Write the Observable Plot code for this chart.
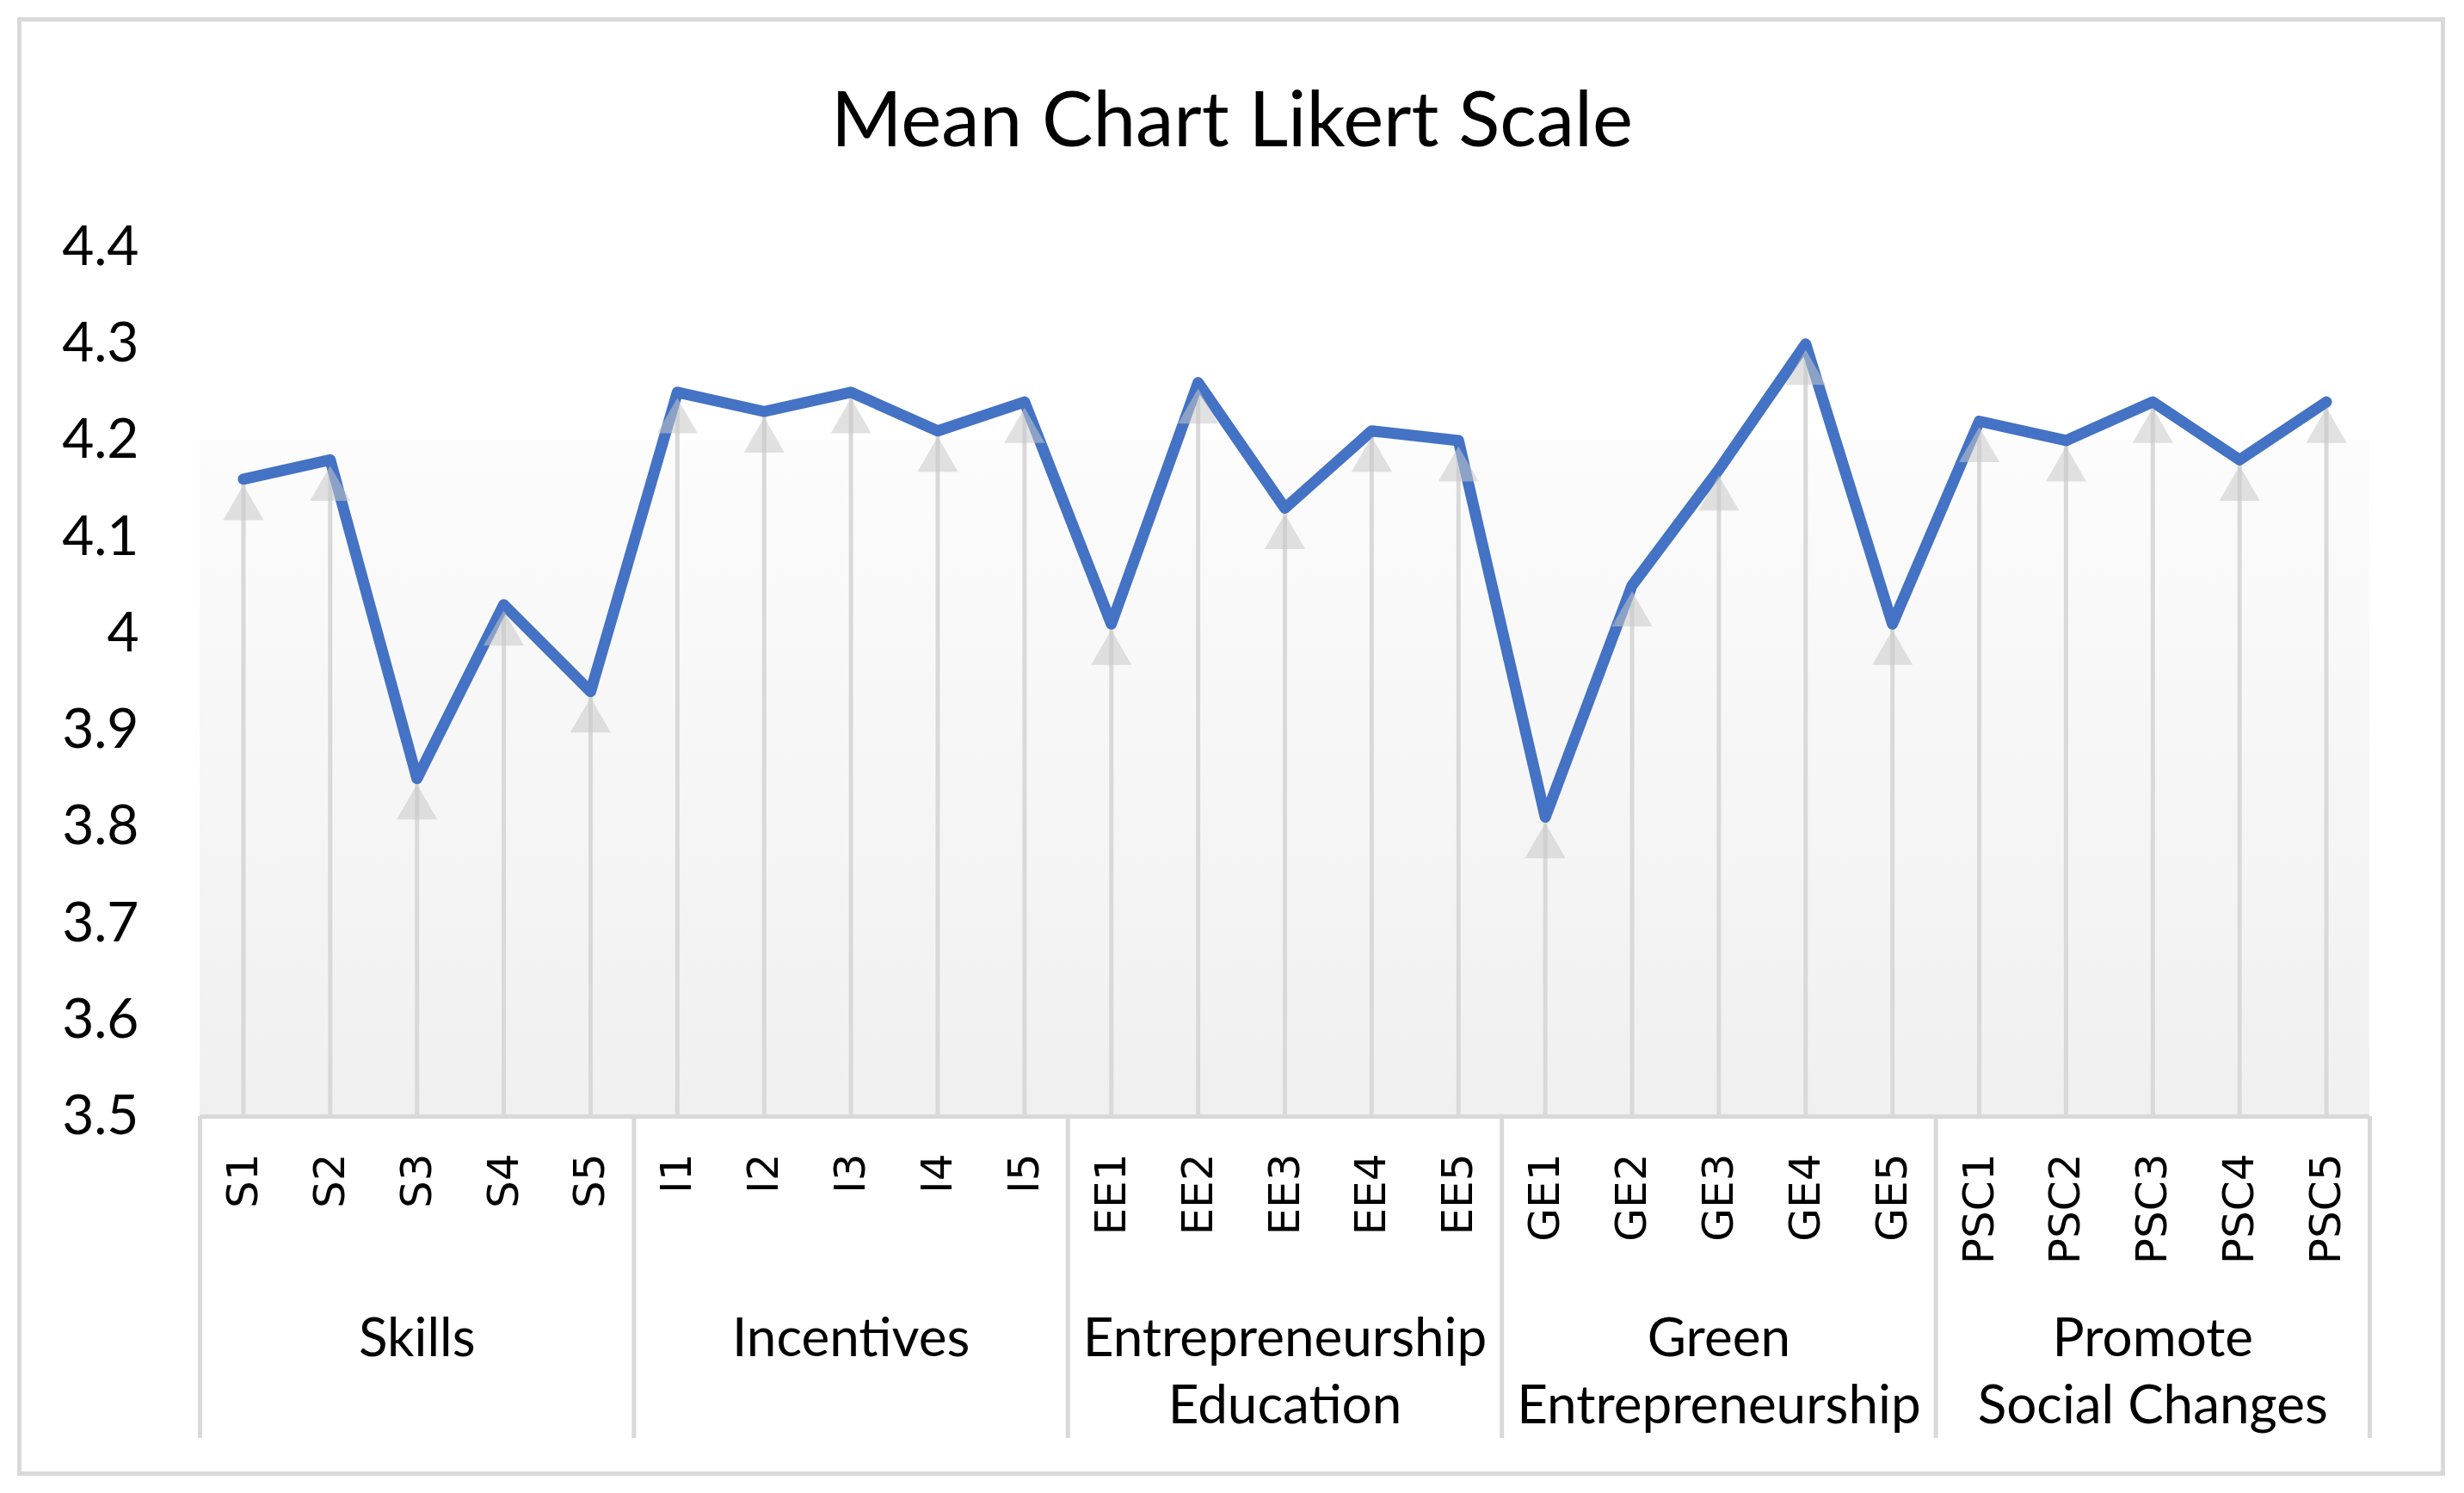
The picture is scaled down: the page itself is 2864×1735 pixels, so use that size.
<!DOCTYPE html>
<html>
<head>
<meta charset="utf-8">
<script src="https://cdn.jsdelivr.net/npm/d3@7"></script>
<script src="https://cdn.jsdelivr.net/npm/@observablehq/plot@0.6"></script>
<style>
  html, body { margin: 0; padding: 0; background: #fff; overflow: hidden; }
  #wrap { position: relative; width: 2864px; height: 1735px; overflow: hidden; }
  #frame { position: absolute; left: 20px; top: 20px; width: 2822px; height: 1695px; box-sizing: border-box; border: 5px solid #d9d9d9; pointer-events: none; }
  #title { position: absolute; left: 0; top: 86px; width: 2864px; text-align: center; font-family: Lato, sans-serif; font-size: 89px; line-height: 100px; color: #000; }
  #chart { position: absolute; left: 0; top: 0; width: 2864px; height: 1735px; }
  #chart svg { max-width: none !important; }
</style>
</head>
<body>
<div id="wrap">
  <div id="chart"></div>
  <div id="title">Mean Chart Likert Scale</div>
  <div id="frame"></div>
</div>
<script>
const items = ["S1","S2","S3","S4","S5","I1","I2","I3","I4","I5","EE1","EE2","EE3","EE4","EE5","GE1","GE2","GE3","GE4","GE5","PSC1","PSC2","PSC3","PSC4","PSC5"];
const values = [4.16,4.18,3.85,4.03,3.94, 4.25,4.23,4.25,4.21,4.24, 4.01,4.26,4.13,4.21,4.20, 3.81,4.05,4.17,4.30,4.01, 4.22,4.20,4.24,4.18,4.24];
const groupNames = ["Skills","Incentives","Entrepreneurship\nEducation","Green\nEntrepreneurship","Promote\nSocial Changes"];
const groupFirst = ["S1","I1","EE1","GE1","PSC1"];
const groupMid = ["S3","I3","EE3","GE3","PSC3"];
const groupLast = ["S5","I5","EE5","GE5","PSC5"];
const yTicks = [3.5,3.6,3.7,3.8,3.9,4.0,4.1,4.2,4.3,4.4];
const yDomain = [3.5, 4.4];
const shadeTop = 4.2;

const data = items.map((item, i) => ({item, value: values[i]}));
const groups = groupNames.map((name, i) => ({name, first: groupFirst[i], mid: groupMid[i], last: groupLast[i]}));

const W = 2864, H = 1735;
const mL = 232, mR = 110, mT = 287, mB = 438;
const bw = (W - mL - mR) / items.length;
const frameH = H - mT - mB;
const gray = "#d9d9d9";

const chart = Plot.plot({
  width: W, height: H,
  marginLeft: mL, marginRight: mR, marginTop: mT, marginBottom: mB,
  style: {fontFamily: "Lato, sans-serif", color: "#000", background: "transparent", maxWidth: "none"},
  x: {type: "band", domain: items, padding: 0, round: false},
  y: {domain: yDomain},
  marks: [
    Plot.barY(items, {x: d => d, y1: yDomain[0], y2: shadeTop, fill: "url(#bgGrad)", shapeRendering: "crispEdges"}),
    Plot.ruleX(data, {x: "item", y1: yDomain[0], y2: "value", stroke: gray, strokeWidth: 5}),
    Plot.line(data, {x: "item", y: "value", stroke: "#4472c4", strokeWidth: 13, strokeLinejoin: "round", strokeLinecap: "round"}),
    Plot.dot(data, {x: "item", y: "value", symbol: "triangle", r: 17.5, fill: "#c8c8c8", fillOpacity: 0.55, stroke: "none", dy: 34}),
    Plot.ruleY([yDomain[0]], {stroke: gray, strokeWidth: 5}),
    // group separators
    Plot.ruleX(groups, {x: "first", dx: -bw / 2, stroke: gray, strokeWidth: 5, insetTop: frameH, insetBottom: -374}),
    Plot.ruleX(groups.slice(-1), {x: "last", dx: bw / 2, stroke: gray, strokeWidth: 5, insetTop: frameH, insetBottom: -374}),
    // group labels
    Plot.text(groups, {x: "mid", text: "name", frameAnchor: "bottom", dy: 223, lineAnchor: "top", lineHeight: 1.26, fontSize: 62, fill: "#000"}),
    Plot.axisY({ticks: yTicks, tickFormat: d => String(+d.toFixed(1)), tickSize: 0, tickPadding: 71, fontSize: 64, fill: "#000", textAnchor: "end", label: null}),
    Plot.axisX({tickRotate: -90, tickSize: 0, tickPadding: 43, fontSize: 50, fill: "#000", label: null})
  ]
});

const svg = d3.select(chart);
const grad = svg.insert("defs", ":first-child").append("linearGradient")
  .attr("id", "bgGrad").attr("x1", 0).attr("y1", 0).attr("x2", 0).attr("y2", 1);
grad.append("stop").attr("offset", "0%").attr("stop-color", "#fcfcfc");
grad.append("stop").attr("offset", "100%").attr("stop-color", "#f0f0f0");
svg.selectAll('g[aria-label="x-axis tick label"]').style("font-family", "'DejaVu Sans', sans-serif");

document.getElementById("chart").appendChild(chart);
</script>
</body>
</html>
